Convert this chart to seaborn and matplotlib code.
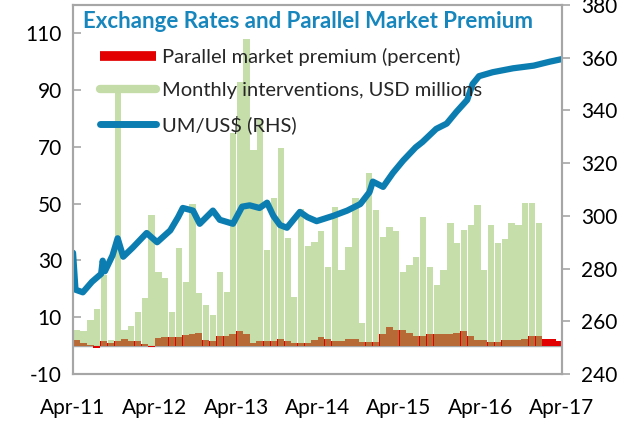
import pandas as pd
import matplotlib
matplotlib.use("Agg")
import matplotlib.pyplot as plt
import matplotlib.dates as mdates
from matplotlib.lines import Line2D
import seaborn as sns


# monthly interventions, USD millions (Apr-11 .. Dec-16)
INTERVENTION_START = "2011-04-01"
interventions = [
    5.5, 5, 9, 13, 25, 2, 90.6, 5.5, 7, 12, 16.7, 46,
    26, 24, 12, 34.3, 22.4, 50, 18.5, 14.3, 10.8, 26, 19, 75,
    92.8, 108, 68.8, 80, 33.6, 52, 69.5, 38, 17, 48, 35, 36.5,
    40.5, 27.7, 48.8, 26.6, 34.7, 52, 8, 60.7, 47.7, 38.4, 41.7, 40.5,
    26, 28.4, 31.2, 45.3, 27.7, 21.3, 26.6, 43.1, 36.1, 40.7, 42.4, 49.5,
    26.6, 42.4, 36.1, 37.5, 43.1, 42.4, 50.2, 50.2, 43.1,
]

# parallel market premium, percent (Apr-11 .. Mar-17)
PREMIUM_START = "2011-04-01"
premium = [
    2, 1, 0.3, -0.8, 1.8, 1, 1.5, 2.5, 1.5, 1.5, 0.5, -0.5,
    2.8, 3, 3, 3.2, 3.8, 4, 4.5, 2, 1.5, 3.5, 3.5, 4,
    5, 4, 1, 1.5, 1.5, 1.5, 2.5, 1.5, 0.8, 0.8, 1, 2,
    3, 2.5, 1.5, 1.5, 2.5, 2.3, 1.2, 1.2, 1.2, 4, 6.5, 5.5,
    5.5, 4.5, 3.5, 3.5, 4, 4, 4, 4, 4.5, 5, 3.5, 2,
    2, 1.2, 1.2, 2, 2, 2, 2.5, 3.5, 3.5, 2.5, 2.5, 1.5,
]

# UM/US$ exchange rate (right axis)
rate_dates = [
    "2011-04-01", "2011-04-12", "2011-05-15", "2011-06-25", "2011-08-05",
    "2011-08-12", "2011-08-22", "2011-09-25", "2011-10-18", "2011-11-12",
    "2011-12-25", "2012-02-25", "2012-04-12", "2012-06-10", "2012-07-15",
    "2012-08-05", "2012-09-20", "2012-10-20", "2012-12-18", "2013-01-18",
    "2013-03-18", "2013-04-28", "2013-06-01", "2013-07-15", "2013-08-18",
    "2013-09-15", "2013-10-15", "2013-11-15", "2014-01-12", "2014-02-15",
    "2014-03-28", "2014-06-10", "2014-08-12", "2014-10-10", "2014-11-20",
    "2014-12-05", "2015-01-20", "2015-03-05", "2015-04-20", "2015-06-15",
    "2015-07-15", "2015-09-15", "2015-11-01", "2015-12-15", "2016-02-01",
    "2016-02-25", "2016-03-25", "2016-05-25", "2016-08-25", "2016-11-25",
    "2017-02-05", "2017-04-01",
]
rate_values = [
    286, 272, 271, 275, 278,
    283, 279, 285, 291.5, 284.5,
    288, 293.5, 290, 294.5, 299.5,
    303, 302, 297, 302, 298.5,
    297, 303.5, 304, 303, 305,
    300, 296.5, 295.5, 301.5, 299.5,
    298, 300, 302, 304.5, 309,
    313, 311, 316.3, 321, 326,
    328, 333, 335, 339.5, 344,
    350, 353, 354.5, 356, 357,
    358.5, 359.5,
]

BLUE = "#0b7db1"
TITLE_BLUE = "#1686bd"
GREEN = "#96c364"
LIGHT_GREEN = "#c4dca8"
RED = "#e30000"
GREY = "#a6a6a6"

sns.set_theme(style="white")
plt.rcParams["font.family"] = ["Lato", "DejaVu Sans"]
plt.rcParams["axes.unicode_minus"] = False

months_int = pd.date_range(INTERVENTION_START, periods=len(interventions), freq="MS")
months_prem = pd.date_range(PREMIUM_START, periods=len(premium), freq="MS")

fig = plt.figure(figsize=(6.21, 4.22), dpi=100)
ax = fig.add_axes([0.1176, 0.1137, 0.7874, 0.8744])

ax.axhline(0, color=GREY, lw=1, zorder=0)
ax.bar(months_prem, premium, width=31, align="edge", color=RED, linewidth=0, zorder=1)
ax.bar(months_int + pd.Timedelta(days=17), interventions, width=28,
       color=GREEN, alpha=0.55, linewidth=0, zorder=2)

ax.set_ylim(-10, 120)
ax.set_yticks(range(-10, 111, 20))
ax.set_xlim(pd.Timestamp("2011-04-01"), pd.Timestamp("2017-04-01"))
ax.xaxis.set_major_locator(mdates.MonthLocator(bymonth=4, bymonthday=1))
ax.xaxis.set_major_formatter(mdates.DateFormatter("%b-%y"))
ax.tick_params(axis="x", length=0, pad=17, labelsize=15, colors="black")
ax.tick_params(axis="y", direction="in", length=6, width=1.2, color=GREY,
               labelsize=15, labelcolor="black", pad=8)

ax2 = ax.twinx()
sns.lineplot(x=pd.to_datetime(rate_dates), y=rate_values, ax=ax2,
             color=BLUE, lw=4.5, solid_capstyle="round")
ax2.set_ylim(240, 380)
ax2.set_yticks(range(240, 381, 20))
ax2.tick_params(axis="y", direction="out", length=6, width=1.2, color=GREY,
                labelsize=15, labelcolor="black", pad=8)
ax2.set_xlim(pd.Timestamp("2011-04-01"), pd.Timestamp("2017-04-01"))
ax.set_xlabel("")
ax2.set_xlabel("")
ax2.set_ylabel("")

for a in (ax, ax2):
    for s in a.spines.values():
        s.set_color(GREY)
        s.set_linewidth(1.5)

ax2.text(0.02, 0.955, "Exchange Rates and Parallel Market Premium",
         transform=ax.transAxes, fontsize=16, weight="bold",
         color=TITLE_BLUE, va="center")

handles = [
    Line2D([], [], color=RED, lw=7, solid_capstyle="butt"),
    Line2D([], [], color=LIGHT_GREEN, lw=6, solid_capstyle="round"),
    Line2D([], [], color=BLUE, lw=5, solid_capstyle="round"),
]
labels = [
    "Parallel market premium (percent)",
    "Monthly interventions, USD millions",
    "UM/US$ (RHS)",
]
ax2.legend(handles, labels, loc="upper left", bbox_to_anchor=(0.055, 0.883),
           frameon=False, fontsize=14.5, handlelength=2.8, labelspacing=0.8,
           handletextpad=0.3, borderpad=0, borderaxespad=0)

fig.savefig("out.png", dpi=100)
